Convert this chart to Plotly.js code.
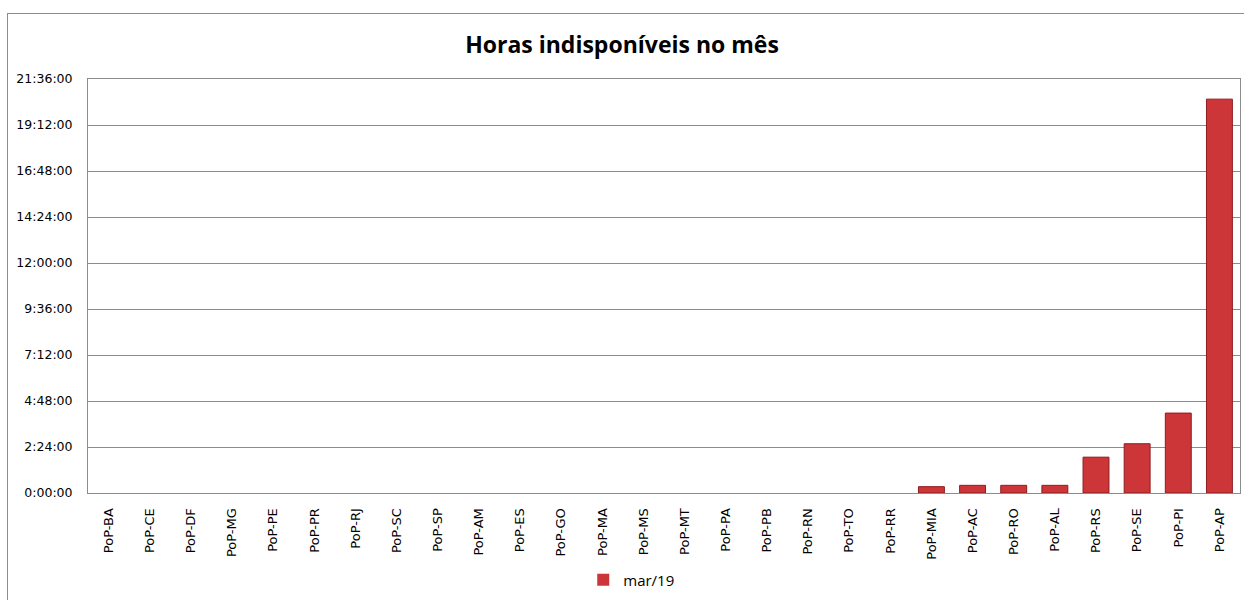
<!DOCTYPE html>
<html>
<head>
<meta charset="utf-8">
<script src="https://cdn.plot.ly/plotly-3.0.1.min.js"></script>
<style>
html,body{margin:0;padding:0;background:#fff;overflow:hidden;}
#frame{position:absolute;left:7px;top:13px;width:1400px;height:800px;border:1px solid #8c8c8c;}
#chart{position:absolute;left:0;top:0;width:1244px;height:600px;}
</style>
</head>
<body>
<div id="frame"></div>
<div id="chart"></div>
<script>
const categories = ["PoP-BA","PoP-CE","PoP-DF","PoP-MG","PoP-PE","PoP-PR","PoP-RJ","PoP-SC","PoP-SP","PoP-AM","PoP-ES","PoP-GO","PoP-MA","PoP-MS","PoP-MT","PoP-PA","PoP-PB","PoP-RN","PoP-TO","PoP-RR","PoP-MIA","PoP-AC","PoP-RO","PoP-AL","PoP-RS","PoP-SE","PoP-PI","PoP-AP"];
// hours unavailable (mar/19)
const hoursMar19 = [0,0,0,0,0,0,0,0,0,0,0,0,0,0,0,0,0,0,0,0,0.33,0.4,0.4,0.4,1.87,2.57,4.17,20.55];
const yTickVals = [0,2.4,4.8,7.2,9.6,12,14.4,16.8,19.2,21.6];
const yTickText = ["0:00:00","2:24:00","4:48:00","7:12:00","9:36:00","12:00:00","14:24:00","16:48:00","19:12:00","21:36:00"];
const seriesName = "mar/19";
const titleText = "Horas indisponíveis no mês";

const trace = {
  type: "bar",
  x: categories,
  y: hoursMar19,
  name: seriesName,
  marker: {color: "#cc3638", line: {color: "#8e1c1e", width: hoursMar19.map(v => v > 0 ? 1 : 0)}},
  showlegend: true,
  hoverinfo: "x+y"
};

const layout = {
  width: 1244, height: 600,
  margin: {l: 88, r: 4, t: 79, b: 104},
  paper_bgcolor: "rgba(0,0,0,0)",
  plot_bgcolor: "#ffffff",
  title: {text: "<b>" + titleText + "</b>", font: {family: "Open Sans, sans-serif", size: 23, color: "#000"}, x: 0.5, xanchor: "center", y: 0.925, yanchor: "middle"},
  bargap: 0.37,
  showlegend: true,
  legend: {orientation: "h", x: 0.472, xanchor: "center", y: -0.21, yanchor: "middle", itemwidth: 30, font: {family: "Open Sans, sans-serif", size: 15, color: "#000"}},
  xaxis: {
    type: "category",
    tickangle: -90,
    tickfont: {family: "DejaVu Sans, sans-serif", size: 13, color: "#000"},
    showline: true, linecolor: "#8c8c8c", linewidth: 1, mirror: true,
    showgrid: false, ticks: "", ticklabelstandoff: 9, zeroline: false
  },
  yaxis: {
    range: [0, 21.6],
    tickvals: yTickVals,
    ticktext: yTickText,
    tickfont: {family: "DejaVu Sans, sans-serif", size: 12.5, color: "#000"},
    showline: true, linecolor: "#8c8c8c", linewidth: 1, mirror: true,
    showgrid: true, gridcolor: "#8c8c8c", gridwidth: 1,
    ticks: "", ticklabelstandoff: 12, zeroline: false, fixedrange: true
  }
};

Plotly.newPlot("chart", [trace], layout, {displayModeBar: false, staticPlot: true});
</script>
</body>
</html>
